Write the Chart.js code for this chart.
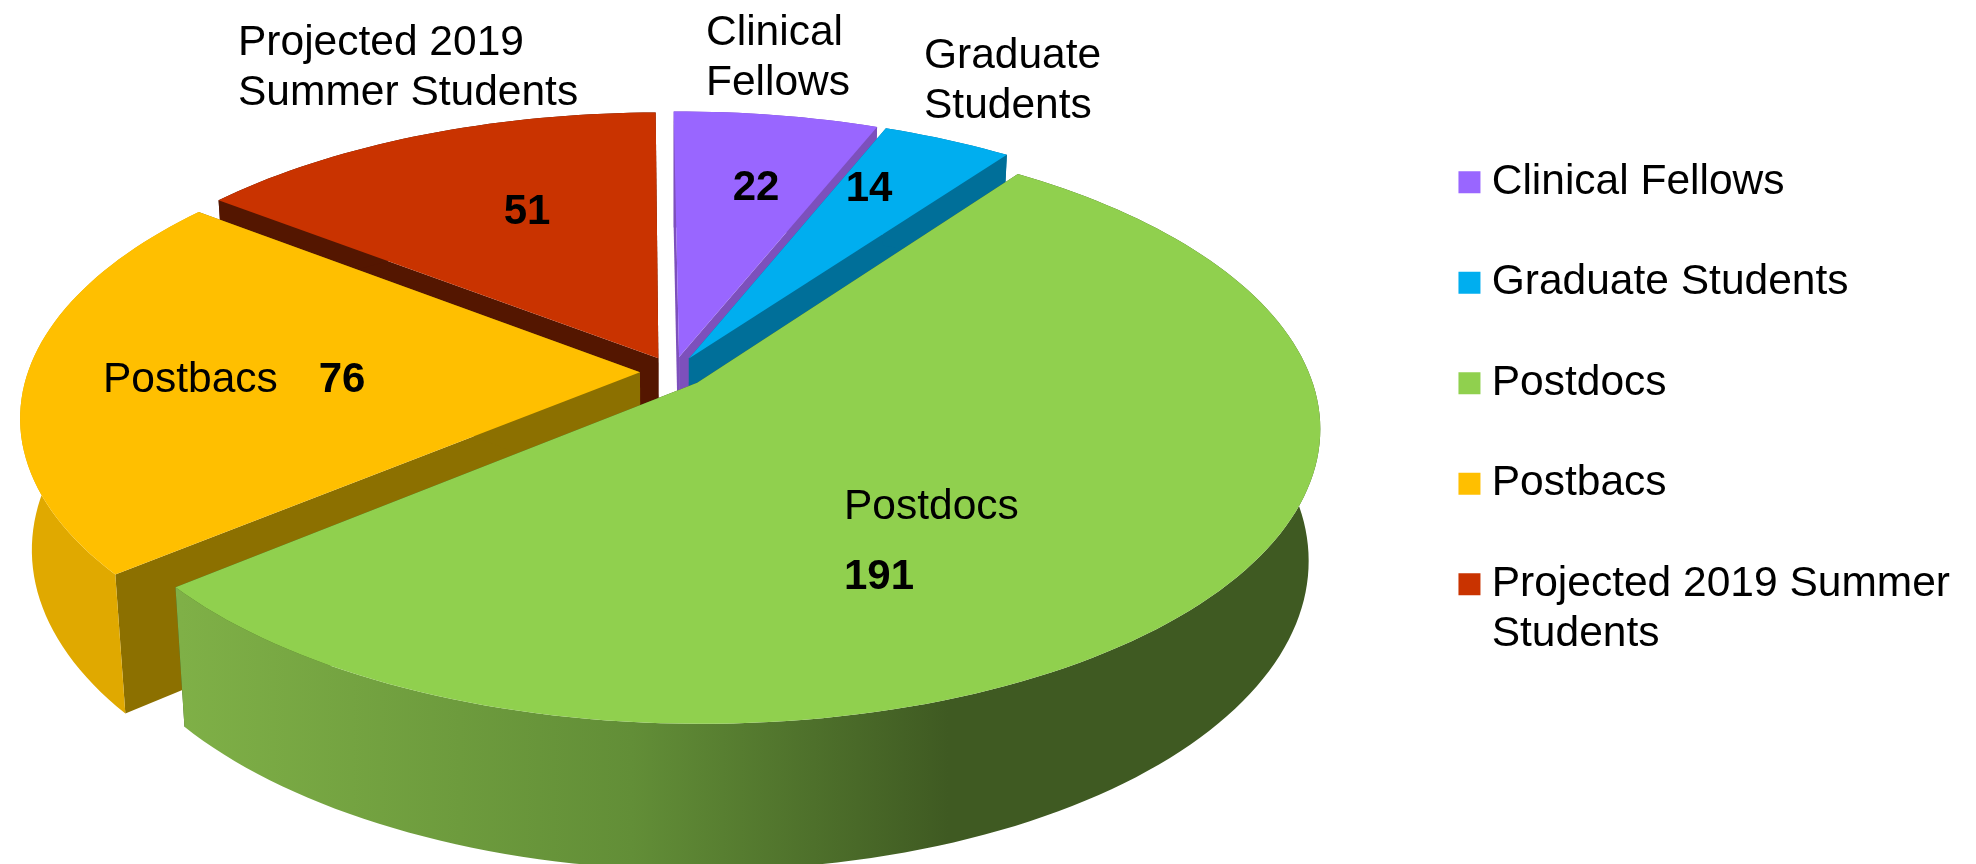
<!DOCTYPE html>
<html>
<head>
    <title>Trainee Headcount</title>
    <script src="https://cdn.jsdelivr.net/npm/chart.js"></script>
    <style>
        html, body { margin: 0; background: #fff; overflow: hidden; }
        canvas { display: block; }
    </style>
</head>
<body>
    <canvas id="traineeChart" width="1976" height="864"></canvas>
    <script type="text/javascript">
        const categories = ['Clinical Fellows', 'Graduate Students', 'Postdocs', 'Postbacs', ['Projected 2019 Summer', 'Students']];
        const counts = [22, 14, 191, 76, 51];
        const topColors = ['#9966FF', '#00AEEF', '#90D04E', '#FFBF00', '#C93300'];
        const wallColors = ['#7D50BC', '#006F99', '#3F5A22', '#8C7000', '#541600'];
        const sliceNames = [['Clinical', 'Fellows'], ['Graduate', 'Students'], ['Postdocs'], ['Postbacs'], ['Projected 2019', 'Summer Students']];

        // back to front, so nearer slices cover the walls of the ones behind
        const paintOrder = [4, 0, 1, 3, 2];

        // perspective view of the pie's plane, tuned against the picture
        const view = { cx: 673, cy: 372, rx: 612, ry: 286.5, persp: 0.15, depth: 129, shrink: 0.018 };

        // where the text goes: name block (left, first line middle), value (centre)
        const nameSpots = [[706, 33], [924, 56], [844, 507], [103, 380], [238, 43]];
        const valueSpots = [[756, 188], [869, 189], [879, 577], [342, 380], [527, 212]];

        function project(u, v, low) {
            const w = 1 - view.persp * v;
            const s = low ? 1 - view.shrink : 1;
            return {
                x: view.cx + view.rx * u * s / w,
                y: view.cy + (view.ry * v * s + (low ? view.depth : 0)) / w
            };
        }

        function traceSlice(ctx, pts) {
            ctx.beginPath();
            pts.forEach((p, i) => i ? ctx.lineTo(p.x, p.y) : ctx.moveTo(p.x, p.y));
            ctx.closePath();
        }

        function rimFill(ctx, i) {
            if (i === 2) {
                const g = ctx.createLinearGradient(180, 0, 1310, 0);
                g.addColorStop(0, '#7FB047');
                g.addColorStop(0.4, '#628E37');
                g.addColorStop(0.68, '#3F5A22');
                g.addColorStop(1, '#3F5A22');
                return g;
            }
            if (i === 3) return '#E0A900';
            return wallColors[i];
        }

        const pie3d = {
            id: 'pie3d',
            // the arcs are laid out by Chart.js, only their painting is replaced
            beforeDatasetsDraw(chart) {
                const ctx = chart.ctx;
                const arcs = chart.getDatasetMeta(0).data;
                ctx.save();
                paintOrder.forEach(i => {
                    const arc = arcs[i];
                    const start = arc.startAngle, end = arc.endAngle;
                    const mid = (start + end) / 2;
                    const off = arc.options.offset / arc.outerRadius;
                    const ox = off * Math.cos(mid), oy = off * Math.sin(mid);
                    const edge = (a, low) => project(Math.cos(a) + ox, Math.sin(a) + oy, low);
                    const tip = low => project(ox, oy, low);
                    const n = Math.ceil((end - start) * 40);
                    const angles = [];
                    for (let k = 0; k <= n; k++) angles.push(start + (end - start) * k / n);

                    // cut faces
                    ctx.fillStyle = wallColors[i];
                    [start, end].forEach(a => {
                        traceSlice(ctx, [tip(false), edge(a, false), edge(a, true), tip(true)]);
                        ctx.fill();
                    });

                    // outer rim
                    ctx.fillStyle = rimFill(ctx, i);
                    const rim = angles.map(a => edge(a, false)).concat(angles.slice().reverse().map(a => edge(a, true)));
                    traceSlice(ctx, rim);
                    ctx.fill();

                    // top face
                    ctx.fillStyle = topColors[i];
                    traceSlice(ctx, [tip(false)].concat(angles.map(a => edge(a, false))));
                    ctx.fill();
                });
                ctx.restore();
                return false;
            },
            afterDraw(chart) {
                const ctx = chart.ctx;
                ctx.save();
                ctx.fillStyle = '#000';
                ctx.textBaseline = 'middle';
                ctx.textAlign = 'left';
                ctx.font = '42.5px "Liberation Sans"';
                sliceNames.forEach((lines, i) => {
                    lines.forEach((line, k) => ctx.fillText(line, nameSpots[i][0], nameSpots[i][1] + k * 50));
                });
                ctx.textAlign = 'center';
                ctx.font = 'bold 42px "Liberation Sans"';
                counts.forEach((c, i) => ctx.fillText(String(c), valueSpots[i][0], valueSpots[i][1]));
                ctx.restore();
            }
        };

        const chart = new Chart(document.getElementById('traineeChart').getContext('2d'), {
            type: 'pie',
            data: {
                labels: categories,
                datasets: [{
                    data: counts,
                    backgroundColor: topColors,
                    borderWidth: 0,
                    offset: 20
                }]
            },
            options: {
                responsive: false,
                animation: false,
                rotation: -0.5,
                layout: { padding: { top: 103, right: 16 } },
                plugins: {
                    tooltip: { enabled: false },
                    legend: {
                        position: 'right',
                        align: 'start',
                        labels: {
                            color: '#000',
                            // thin box with a thick stroke keeps the text close to the swatch
                            boxWidth: 2,
                            boxHeight: 2,
                            padding: 58,
                            font: { family: '"Liberation Sans"', size: 42.5, lineHeight: 1.18 },
                            generateLabels(c) {
                                return Chart.overrides.pie.plugins.legend.labels.generateLabels(c).map(item => ({
                                    ...item,
                                    lineWidth: 20,
                                    strokeStyle: item.fillStyle
                                }));
                            }
                        }
                    }
                }
            },
            plugins: [pie3d]
        });
    </script>
</body>
</html>
